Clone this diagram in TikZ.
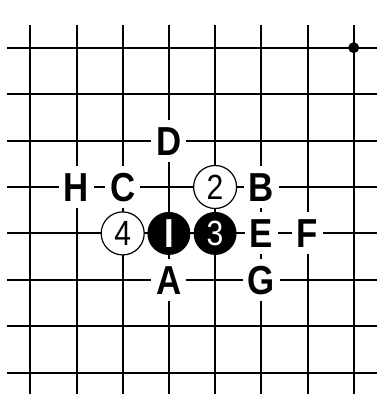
\documentclass[tikz,border=0pt]{standalone}
\usepackage{fontspec}
\newfontfamily\lblfont[FakeStretch=0.86]{Liberation Sans}
\begin{document}
\begin{tikzpicture}[x=1pt,y=-1pt,
  gridline/.style={line width=2pt,black},
  lbl/.style={fill=white,inner xsep=5pt,inner ysep=0pt,minimum height=42pt,
    text height=29pt,text depth=0pt,font=\lblfont\bfseries\fontsize{40.5}{40.5}\selectfont},
  stone/.style={circle,minimum size=43pt,inner sep=0pt,
    font=\lblfont\fontsize{35}{35}\selectfont},
  wstone/.style={stone,draw=black,line width=1.2pt,fill=white,text=black},
  bstone/.style={stone,fill=black,text=white}]
\useasboundingbox (0,0) rectangle (379,394);
\fill[white] (0,0) rectangle (379,394);
\foreach \i in {0,...,7}{
  \draw[gridline] ({30.3+46.2*\i},25) -- ({30.3+46.2*\i},394);
  \draw[gridline] (7,{47.7+46.43*\i}) -- (377,{47.7+46.43*\i});
}
\foreach \i in {0,...,7}{\foreach \j in {0,...,7}{
  \coordinate (p\i-\j) at ({30.3+46.2*\i},{47.7+46.43*\j});}}
\fill (p7-0) circle (5.5pt);
% stones
\node[wstone] (s2) at (p4-3) {2};
\node[wstone] (s4) at (p2-4) {4};
\node[bstone] (s1) at (p3-4) {\bfseries\fontsize{40.5}{40.5}\selectfont I};
\node[bstone] (s3) at (p4-4) {3};
% labels
\node[lbl] (D) at (p3-2) {D};
\node[lbl] (H) at (p1-3) {H};
\node[lbl] (C) at (p2-3) {C};
\node[lbl] (B) at (p5-3) {B};
\node[lbl] (E) at (p5-4) {E};
\node[lbl] (F) at (p6-4) {F};
\node[lbl] (A) at (p3-5) {A};
\node[lbl] (G) at (p5-5) {G};
\end{tikzpicture}
\end{document}
